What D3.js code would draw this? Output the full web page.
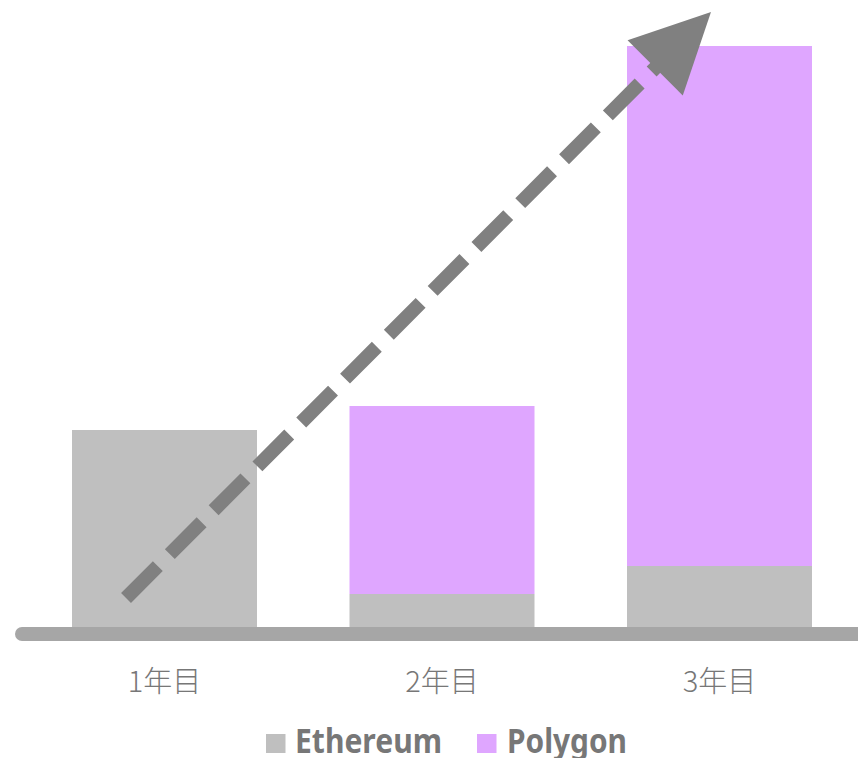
<!DOCTYPE html>
<html>
<head>
<meta charset="utf-8">
<script src="https://cdn.jsdelivr.net/npm/d3@7"></script>
<style>
  html, body { margin: 0; padding: 0; background: #fff; }
  svg { display: block; }
</style>
</head>
<body>
<svg id="chart" width="858" height="758"></svg>
<script>
// Categories and stacked series values
const categories = ["1年目", "2年目", "3年目"];
const ethereum = [197, 33, 61];
const polygon = [0, 188, 520];
const seriesNames = ["Ethereum", "Polygon"];
const seriesColors = ["#bfbfbf", "#dfa6ff"];

// Growth arrow annotation, expressed in data space (category + position across band, value)
const arrowFrom = { category: "1年目", frac: 0.292, value: 29 };
const arrowTo = { category: "3年目", frac: 0.454, value: 615 };

const svg = d3.select("#chart");

const x = d3.scaleBand()
  .domain(categories)
  .range([25.75, 858.25])
  .paddingInner(1 / 3)
  .paddingOuter(1 / 6);

const y = d3.scaleLinear()
  .domain([0, 600])
  .range([627, 27]);

const rows = categories.map((c, i) => ({ category: c, Ethereum: ethereum[i], Polygon: polygon[i] }));
const stacked = d3.stack().keys(seriesNames)(rows);

// Stacked bars
svg.append("g")
  .selectAll("g")
  .data(stacked)
  .join("g")
  .attr("fill", (d, i) => seriesColors[i])
  .selectAll("rect")
  .data(d => d.filter(s => s[1] > s[0]))
  .join("rect")
  .attr("x", d => x(d.data.category))
  .attr("width", x.bandwidth())
  .attr("y", d => y(d[1]))
  .attr("height", d => y(d[0]) - y(d[1]));

// Baseline axis with category labels
const axis = d3.axisBottom(x).tickSize(0).tickPadding(0);
const axisG = svg.append("g")
  .attr("transform", `translate(0, ${y(0)})`)
  .call(axis);
axisG.select(".domain").remove();
axisG.append("line")
  .attr("x1", 22)
  .attr("x2", 880)
  .attr("y1", 7)
  .attr("y2", 7)
  .attr("stroke", "#a6a6a6")
  .attr("stroke-width", 14)
  .attr("stroke-linecap", "round");
axisG.selectAll(".tick text")
  .attr("y", 65)
  .attr("dy", 0)
  .attr("fill", "#777777")
  .attr("font-family", "'Noto Sans CJK JP', 'Noto Sans', sans-serif")
  .attr("font-weight", 300)
  .attr("font-size", 29);

// Dashed growth arrow
const px = p => x(p.category) + p.frac * x.bandwidth();
const x0 = px(arrowFrom), y0 = y(arrowFrom.value);
const x1 = px(arrowTo), y1 = y(arrowTo.value);
const ang = Math.atan2(y1 - y0, x1 - x0);
const headLen = 79, headHalf = 39;
const bx = x1 - headLen * Math.cos(ang), by = y1 - headLen * Math.sin(ang);

svg.append("line")
  .attr("x1", x0).attr("y1", y0)
  .attr("x2", bx + 4 * Math.cos(ang)).attr("y2", by + 4 * Math.sin(ang))
  .attr("stroke", "#808080")
  .attr("stroke-width", 14)
  .attr("stroke-dasharray", "45 17")
  .attr("stroke-linecap", "butt");

const nx = -Math.sin(ang), ny = Math.cos(ang);
svg.append("path")
  .attr("d", d3.line()([
    [x1, y1],
    [bx + headHalf * nx, by + headHalf * ny],
    [bx - headHalf * nx, by - headHalf * ny]
  ]) + "Z")
  .attr("fill", "#808080");

// Legend
const legend = svg.append("g")
  .attr("font-family", "'Noto Sans', 'Noto Sans CJK JP', sans-serif")
  .attr("font-weight", 700)
  .attr("font-size", 34)
  .attr("fill", "#777777");
const legendItems = [
  { name: seriesNames[0], color: seriesColors[0], sx: 266, tx: 295, w: 147 },
  { name: seriesNames[1], color: seriesColors[1], sx: 477, tx: 507, w: 120 }
];
legendItems.forEach(item => {
  legend.append("rect")
    .attr("x", item.sx).attr("y", 734)
    .attr("width", 19.5).attr("height", 19)
    .attr("fill", item.color);
  legend.append("text")
    .attr("x", item.tx).attr("y", 753)
    .attr("textLength", item.w)
    .attr("lengthAdjust", "spacingAndGlyphs")
    .text(item.name);
});
</script>
</body>
</html>
